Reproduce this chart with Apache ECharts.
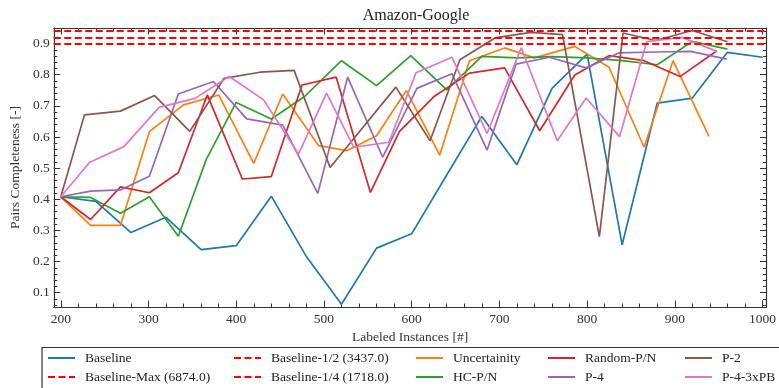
<!DOCTYPE html>
<html>
<head>
<meta charset="utf-8">
<script src="https://cdn.jsdelivr.net/npm/echarts@6/dist/echarts.min.js"></script>
<style>html,body{margin:0;padding:0;background:#fff;}#c{width:779px;height:388px;}</style>
</head>
<body>
<div id="c"></div>
<script>
// ---- data ----
const xMajorTicks = [200, 300, 400, 500, 600, 700, 800, 900, 1000];
const xMinorTicks = [220,240,260,280,320,340,360,380,420,440,460,480,520,540,560,580,620,640,660,680,720,740,760,780,820,840,860,880,920,940,960,980];
const yMajorTicks = [0.1, 0.2, 0.3, 0.4, 0.5, 0.6, 0.7, 0.8, 0.9];
const yMinorTicks = [0.06,0.08,0.12,0.14,0.16,0.18,0.22,0.24,0.26,0.28,0.32,0.34,0.36,0.38,0.42,0.44,0.46,0.48,0.52,0.54,0.56,0.58,0.62,0.64,0.66,0.68,0.72,0.74,0.76,0.78,0.82,0.84,0.86,0.88,0.92,0.94];

const baselineX = [200,240,280,320,360,400,440,480,520,560,600,640,680,720,760,800,840,880,920,960,1000];
const baselineY = [0.408,0.393,0.293,0.342,0.238,0.251,0.410,0.216,0.063,0.243,0.289,0.478,0.666,0.511,0.756,0.866,0.254,0.709,0.725,0.872,0.856];

const baselineMax = 0.940;
const baselineHalf = 0.923;
const baselineQuarter = 0.899;

const uncertaintyX = [200,234,268,301,340,380,420,453,494,526,560,594,632,666,706,740,786,825,865,898,939];
const uncertaintyY = [0.408,0.316,0.316,0.617,0.703,0.735,0.515,0.738,0.572,0.556,0.604,0.749,0.542,0.845,0.886,0.854,0.891,0.824,0.567,0.845,0.602];

const hcX = [200,234,268,301,334,366,400,440,478,520,560,599,640,680,720,760,800,840,880,920,960];
const hcY = [0.408,0.406,0.355,0.408,0.281,0.529,0.711,0.658,0.730,0.845,0.765,0.861,0.751,0.859,0.854,0.858,0.854,0.845,0.832,0.907,0.882];

const randomX = [200,234,268,301,334,367,407,440,475,514,553,586,626,666,706,746,786,825,865,906,948];
const randomY = [0.408,0.335,0.440,0.421,0.485,0.735,0.465,0.473,0.767,0.792,0.422,0.617,0.731,0.805,0.822,0.620,0.799,0.861,0.845,0.794,0.877];

const p4X = [200,234,268,301,334,374,412,453,493,527,567,606,646,686,719,757,799,836,878,918,959];
const p4Y = [0.408,0.426,0.430,0.474,0.738,0.778,0.658,0.638,0.419,0.792,0.535,0.756,0.803,0.558,0.834,0.856,0.822,0.870,0.873,0.875,0.850];

const p2X = [200,227,268,307,347,386,427,466,507,582,621,655,695,736,772,814,841,878,920,960];
const p2Y = [0.408,0.671,0.683,0.733,0.618,0.788,0.808,0.814,0.502,0.760,0.588,0.848,0.918,0.936,0.929,0.280,0.934,0.910,0.942,0.906];

const p43X = [200,233,272,312,353,392,431,471,503,534,574,605,646,686,725,766,799,837,868,908,948];
const p43Y = [0.408,0.519,0.569,0.695,0.724,0.794,0.720,0.545,0.741,0.567,0.583,0.806,0.856,0.611,0.886,0.588,0.725,0.601,0.906,0.920,0.875];

// ---- chart ----
const FONT = 'Liberation Serif';
const AX = '#333';
const xMin = 192, xMax = 1004.5, yMin = 0.054, yMax = 0.95;

function pairs(xs, ys) { return xs.map((x, i) => [x, ys[i]]); }

function lineSeries(name, color, xs, ys) {
  return {
    name, type: 'line', data: pairs(xs, ys),
    xAxisIndex: 0, yAxisIndex: 0,
    symbol: 'none', showSymbol: false,
    color, lineStyle: { color, width: 1.7 },
    clip: true, animation: false
  };
}
const dash = [7, 3.5];
function hSeries(name, val) {
  return {
    name, type: 'line', data: [],
    xAxisIndex: 0, yAxisIndex: 0,
    symbol: 'none', showSymbol: false, color: '#ff0000',
    lineStyle: { color: '#ff0000', width: 2, type: dash },
    markLine: {
      silent: true, symbol: ['none', 'none'], label: { show: false },
      lineStyle: { color: '#ff0000', width: 2, type: dash },
      data: [{ yAxis: val }]
    },
    animation: false
  };
}

function xAx(pos, ticks, len, labels, line) {
  return {
    type: 'value', position: pos, min: xMin, max: xMax,
    axisLine: { show: line, onZero: false, lineStyle: { color: AX, width: 1.2 } },
    axisTick: { show: true, inside: true, length: len, customValues: ticks, lineStyle: { color: AX, width: 1 } },
    axisLabel: labels ? { show: true, customValues: ticks, margin: 5, color: '#333', fontFamily: FONT, fontSize: 13.5, formatter: v => String(Math.round(v)) } : { show: false },
    splitLine: { show: false }
  };
}
function yAx(pos, ticks, len, labels, line) {
  return {
    type: 'value', position: pos, min: yMin, max: yMax,
    axisLine: { show: line, onZero: false, lineStyle: { color: AX, width: 1.2 } },
    axisTick: { show: true, inside: true, length: len, customValues: ticks, lineStyle: { color: AX, width: 1 } },
    axisLabel: labels ? { show: true, customValues: ticks, margin: 4, color: '#333', fontFamily: FONT, fontSize: 13.5, formatter: v => v.toFixed(1) } : { show: false },
    splitLine: { show: false }
  };
}

const xAxes = [xAx('bottom', xMajorTicks, 6.5, true, true), xAx('bottom', xMinorTicks, 3.5, false, false),
               xAx('top', xMajorTicks, 6.5, false, true), xAx('top', xMinorTicks, 3.5, false, false)];
xAxes[0].name = 'Labeled Instances [#]';
xAxes[0].nameLocation = 'middle';
xAxes[0].nameGap = 21;
xAxes[0].nameTextStyle = { fontFamily: FONT, fontSize: 13.5, color: '#333' };
const yAxes = [yAx('left', yMajorTicks, 6.5, true, true), yAx('left', yMinorTicks, 3.5, false, false),
               yAx('right', yMajorTicks, 6.5, false, true), yAx('right', yMinorTicks, 3.5, false, false)];
yAxes[0].name = 'Pairs Completeness [-]';
yAxes[0].nameLocation = 'middle';
yAxes[0].nameGap = 23;
yAxes[0].nameTextStyle = { fontFamily: FONT, fontSize: 13.5, color: '#333' };

const series = [
  lineSeries('Baseline', '#1f77b4', baselineX, baselineY),
  hSeries('Baseline-Max (6874.0)', baselineMax),
  hSeries('Baseline-1/2 (3437.0)', baselineHalf),
  hSeries('Baseline-1/4 (1718.0)', baselineQuarter),
  lineSeries('Uncertainity', '#ff7f0e', uncertaintyX, uncertaintyY),
  lineSeries('HC-P/N', '#2ca02c', hcX, hcY),
  lineSeries('Random-P/N', '#d62728', randomX, randomY),
  lineSeries('P-4', '#9467bd', p4X, p4Y),
  lineSeries('P-2', '#8c564b', p2X, p2Y),
  lineSeries('P-4-3xPB', '#e377c2', p43X, p43Y)
];

const legendCols = [
  { left: 47, names: ['Baseline', 'Baseline-Max (6874.0)'] },
  { left: 233, names: ['Baseline-1/2 (3437.0)', 'Baseline-1/4 (1718.0)'] },
  { left: 415, names: ['Uncertainity', 'HC-P/N'] },
  { left: 547, names: ['Random-P/N', 'P-4'] },
  { left: 684, names: ['P-2', 'P-4-3xPB'] }
];
const legends = legendCols.map(c => ({
  show: true, orient: 'vertical', left: c.left, top: 351, padding: 0,
  itemWidth: 27, itemHeight: 14, itemGap: 5, selectedMode: false,
  itemStyle: { opacity: 0, borderWidth: 0 },
  data: c.names,
  textStyle: { fontFamily: FONT, fontSize: 13.5, color: '#222', padding: [0, 0, 0, 5] }
}));

const chart = echarts.init(document.getElementById('c'), null, { renderer: 'canvas' });
chart.setOption({
  animation: false,
  backgroundColor: '#fff',
  title: { text: 'Amazon-Google', left: 411, top: 3, textAlign: 'center',
           textStyle: { fontFamily: FONT, fontSize: 16, fontWeight: 'normal', color: '#222' } },
  grid: { left: 53, right: 11, top: 28, bottom: 81, containLabel: false },
  xAxis: xAxes,
  yAxis: yAxes,
  legend: legends,
  graphic: [{ type: 'rect', shape: { x: 42, y: 347.5, width: 760, height: 60 },
              style: { fill: '#fff', stroke: '#333', lineWidth: 1.2 }, z: -1, silent: true }],
  series
});
</script>
</body>
</html>
